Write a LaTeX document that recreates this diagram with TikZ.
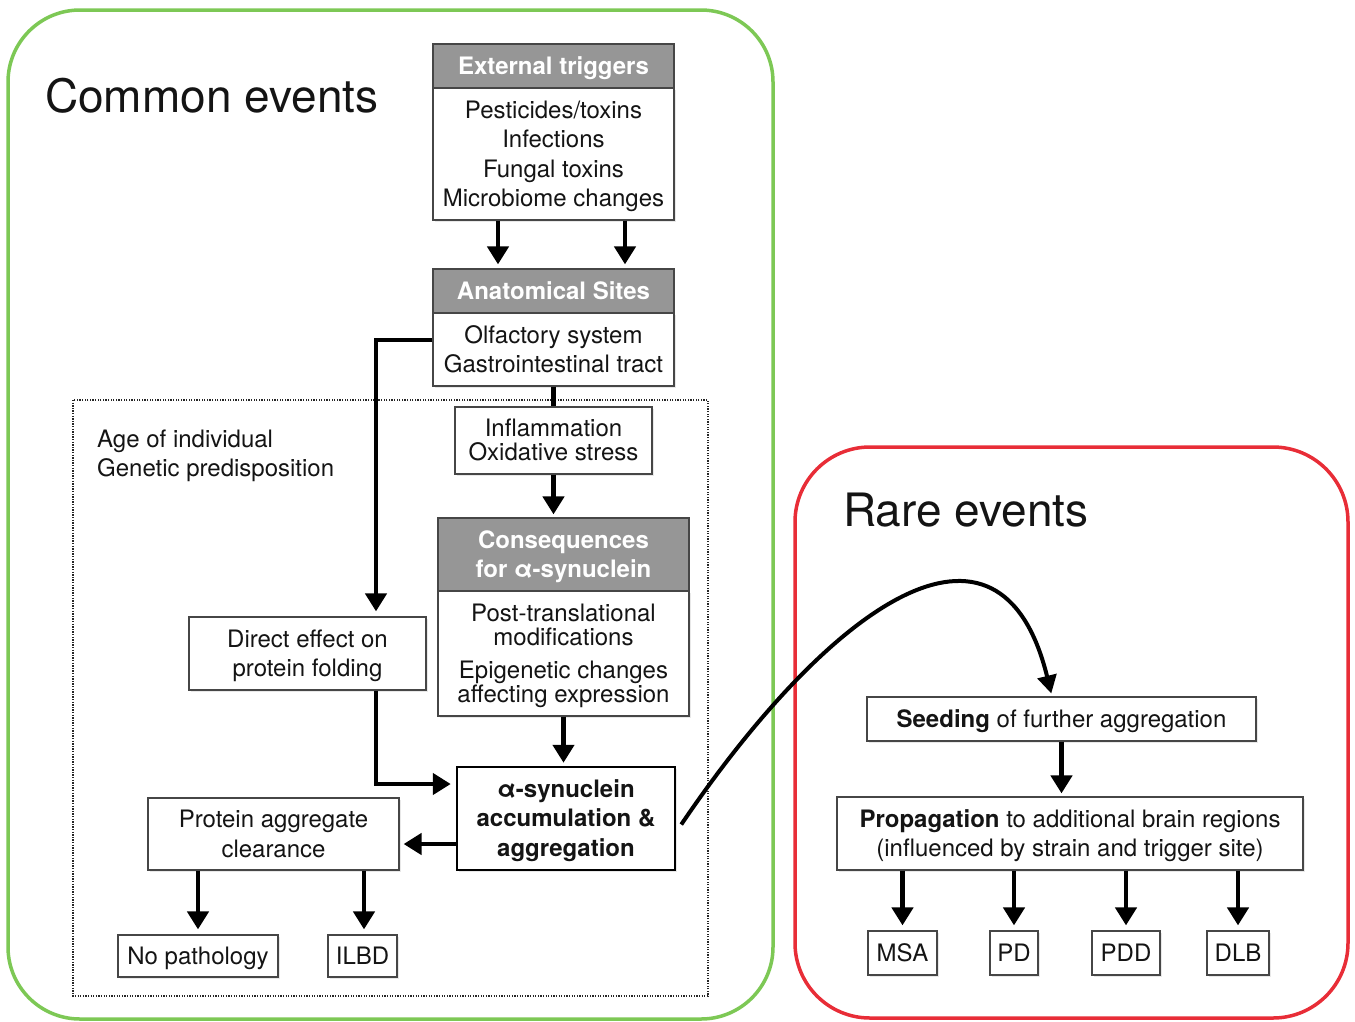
\documentclass[tikz,border=0pt]{standalone}
\usepackage{fontspec}
\setmainfont{TeX Gyre Heros}
\usetikzlibrary{arrows.meta,shadows}
\definecolor{hdrc}{RGB}{150,150,150}
\definecolor{boxc}{RGB}{70,70,70}
\definecolor{grn}{RGB}{125,200,85}
\definecolor{rd}{RGB}{232,45,55}
\definecolor{txtc}{RGB}{20,20,20}
\newcommand{\txtfont}{\fontsize{24}{29.5}\selectfont}
\newcommand{\bigttl}{\fontsize{46}{50}\selectfont}
\begin{document}
\begin{tikzpicture}[x=1pt,y=-1pt,
  box/.style={draw=boxc, fill=white, line width=1.2pt, text=txtc, font=\txtfont, align=center, inner sep=0pt, text depth=1pt,
     drop shadow={shadow xshift=1.5pt, shadow yshift=-2pt, opacity=0.18}},
  hdr/.style={draw=boxc, fill=hdrc, line width=1.2pt, text=white, font=\txtfont\bfseries, align=center, inner sep=0pt, text depth=1pt},
  arr/.style={line width=4.5pt, -{Triangle[width=21pt,length=18pt]}},
  plain/.style={line width=4.5pt},
  ttl/.style={anchor=base west, font=\bigttl, text=txtc, inner sep=0pt},
  lbl/.style={anchor=base west, font=\txtfont, text=txtc, inner sep=0pt}]
\useasboundingbox (0,0) rectangle (1355,1021);
% group frames
\draw[grn, line width=3.5pt, rounded corners=72pt] (8,10) rectangle (773,1019);
\draw[rd, line width=3.5pt, rounded corners=75pt] (795,447) rectangle (1348,1018);
\draw[line width=1.3pt, dash pattern=on 1.3pt off 1.3pt, black!85] (73,400) rectangle (708,996);
% titles
\node[ttl] (tcommon) at (45,112) {Common events};
\node[ttl] (trare) at (843,526) {Rare events};
\node[lbl] (age) at (97,447) {Age of individual};
\node[lbl] (gen) at (97,476) {Genetic predisposition};
% boxes
\node[hdr, minimum width=241pt, minimum height=44pt] (exthdr) at (553.5,66) {External triggers};
\node[box, minimum width=241pt, minimum height=132pt] (ext) at (553.5,154) {Pesticides/toxins\\Infections\\Fungal toxins\\Microbiome changes};
\node[hdr, minimum width=241pt, minimum height=44pt] (anathdr) at (553.5,291) {Anatomical Sites};
\node[box, minimum width=241pt, minimum height=73pt] (anat) at (553.5,349.5) {Olfactory system\\Gastrointestinal tract};
\node[box, minimum width=197pt, minimum height=67pt, font=\fontsize{24}{24}\selectfont] (infl) at (553.5,440.5) {Inflammation\\Oxidative stress};
\node[hdr, minimum width=251pt, minimum height=73pt] (conshdr) at (563.5,554.5) {Consequences\\for α-synuclein};
\node[box, minimum width=251pt, minimum height=125pt, font=\fontsize{24}{24}\selectfont] (cons) at (563.5,653.5) {Post-translational\\modifications\\[9pt]Epigenetic changes\\affecting expression};
\node[box, draw=black, line width=2.5pt, minimum width=218pt, minimum height=103pt, font=\txtfont\bfseries] (agg) at (566,818.5) {α-synuclein\\accumulation \&\\aggregation};
\node[box, minimum width=237pt, minimum height=73pt] (direct) at (307.5,653.5) {Direct effect on\\protein folding};
\node[box, minimum width=251pt, minimum height=72pt] (clear) at (273.5,834) {Protein aggregate\\clearance};
\node[box, minimum width=160pt, minimum height=42pt] (nopath) at (198,956) {No pathology};
\node[box, minimum width=69pt, minimum height=42pt] (ilbd) at (362.5,956) {ILBD};
\node[box, minimum width=389pt, minimum height=44pt] (seed) at (1061.5,719) {\textbf{Seeding} of further aggregation};
\node[box, minimum width=466pt, minimum height=73pt] (prop) at (1070,833.5) {\textbf{Propagation} to additional brain regions\\(influenced by strain and trigger site)};
\node[box, minimum width=69pt, minimum height=44pt] (msa) at (902.5,953) {MSA};
\node[box, minimum width=48pt, minimum height=44pt] (pd) at (1014,953) {PD};
\node[box, minimum width=68pt, minimum height=44pt] (pdd) at (1126,953) {PDD};
\node[box, minimum width=62pt, minimum height=44pt] (dlb) at (1238,953) {DLB};
% connectors
\draw[arr, shorten >=4pt] ([xshift=-55.5pt]ext.south) -- ([xshift=-55.5pt]anathdr.north);
\draw[arr, shorten >=4pt] ([xshift=71.5pt]ext.south) -- ([xshift=71.5pt]anathdr.north);
\draw[arr, shorten >=5pt] ([yshift=9.5pt]anat.west) -| ([xshift=68.5pt]direct.north);
\draw[plain] (anat.south) -- (infl.north);
\draw[arr, shorten >=3pt] (infl.south) -- (infl.south |- conshdr.north);
\draw[arr, shorten >=3pt] (cons.south) -- (cons.south |- agg.north);
\draw[arr, shorten >=5pt] ([xshift=68.5pt]direct.south) |- ([yshift=34.5pt]agg.west);
\draw[arr, shorten >=4pt] ([yshift=-25.5pt]agg.west) coordinate (aw) -- (aw -| clear.east);
\draw[arr, shorten >=5pt] ([xshift=-75.5pt]clear.south) -- ([xshift=-75.5pt]clear.south |- nopath.north);
\draw[arr, shorten >=5pt] ([xshift=90.5pt]clear.south) -- ([xshift=90.5pt]clear.south |- ilbd.north);
\draw[line width=4pt, -{Triangle[width=19pt,length=18pt]}, shorten >=3pt] ([xshift=5pt,yshift=-6pt]agg.east) .. controls (830,605) and (1000,485) .. ([xshift=-9.5pt]seed.north);
\draw[arr, shorten >=3pt] (seed.south) -- (seed.south |- prop.north);
\draw[arr, shorten >=5pt] (msa.north |- prop.south) -- (msa.north);
\draw[arr, shorten >=5pt] (pd.north |- prop.south) -- (pd.north);
\draw[arr, shorten >=5pt] (pdd.north |- prop.south) -- (pdd.north);
\draw[arr, shorten >=5pt] (dlb.north |- prop.south) -- (dlb.north);
\end{tikzpicture}
\end{document}
